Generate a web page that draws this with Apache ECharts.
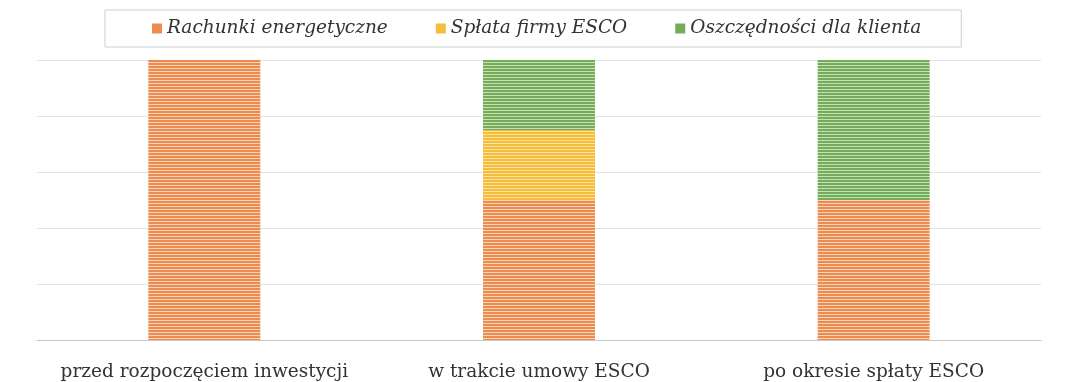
<!DOCTYPE html>
<html>
<head>
<meta charset="utf-8">
<script src="https://cdn.jsdelivr.net/npm/echarts@6/dist/echarts.min.js"></script>
<style>
  html, body { margin: 0; padding: 0; background: #ffffff; }
  #chart { width: 1072px; height: 382px; }
</style>
</head>
<body>
<div id="chart"></div>
<script>
// Stages of an ESCO energy-performance contract
const categories = ['przed rozpoczęciem inwestycji', 'w trakcie umowy ESCO', 'po okresie spłaty ESCO'];
const seriesNames = ['Rachunki energetyczne', 'Spłata firmy ESCO', 'Oszczędności dla klienta'];
// Share of the original energy bill (%)
const energyBills = [100, 50, 50];
const escoRepayment = [0, 25, 0];
const clientSavings = [0, 25, 50];

// Horizontal line pattern used for the bar fills
function stripes(line, gap) {
  const c = document.createElement('canvas');
  c.width = 4; c.height = 3;
  const g = c.getContext('2d');
  g.fillStyle = gap; g.fillRect(0, 0, 4, 3);
  g.fillStyle = line; g.fillRect(0, 0, 4, 2);
  return { image: c, repeat: 'repeat' };
}

const solid = ['#ee8c50', '#f6bd3a', '#74ad5a'];
const fills = [
  stripes(solid[0], '#f9d3bb'),
  stripes(solid[1], '#fde2a0'),
  stripes(solid[2], '#c6e0b8')
];

const serif = '"DejaVu Serif", "Liberation Serif", serif';

const chart = echarts.init(document.getElementById('chart'), null, { renderer: 'canvas' });
chart.setOption({
  animation: false,
  legend: {
    top: 10,
    left: 105,
    itemWidth: 10,
    itemHeight: 10,
    itemGap: 48,
    padding: [9, 40, 9, 47],
    borderColor: '#cfcfcf',
    borderWidth: 1,
    icon: 'rect',
    textStyle: { fontFamily: serif, fontStyle: 'italic', fontSize: 18.5, color: '#333333' },
    data: seriesNames.map(function (n, i) { return { name: n, itemStyle: { color: solid[i] } }; })
  },
  grid: { left: 37, right: 31, top: 60, bottom: 42, outerBoundsMode: 'none', containLabel: false },
  xAxis: {
    type: 'category',
    data: categories,
    axisTick: { show: false },
    axisLine: { lineStyle: { color: '#c8c8c8', width: 1 } },
    axisLabel: {
      interval: 0,
      hideOverlap: false,
      margin: 23,
      fontFamily: serif,
      fontSize: 18.5,
      color: '#333333'
    }
  },
  yAxis: {
    type: 'value',
    min: 0, max: 100, interval: 20,
    axisLabel: { show: false },
    axisLine: { show: false },
    axisTick: { show: false },
    splitLine: { lineStyle: { color: '#e3e3e3', width: 1 } }
  },
  series: [
    { name: seriesNames[0], type: 'bar', stack: 'total', barWidth: 112, data: energyBills, itemStyle: { color: fills[0] } },
    { name: seriesNames[1], type: 'bar', stack: 'total', barWidth: 112, data: escoRepayment, itemStyle: { color: fills[1] } },
    { name: seriesNames[2], type: 'bar', stack: 'total', barWidth: 112, data: clientSavings, itemStyle: { color: fills[2] } }
  ]
});
</script>
</body>
</html>
